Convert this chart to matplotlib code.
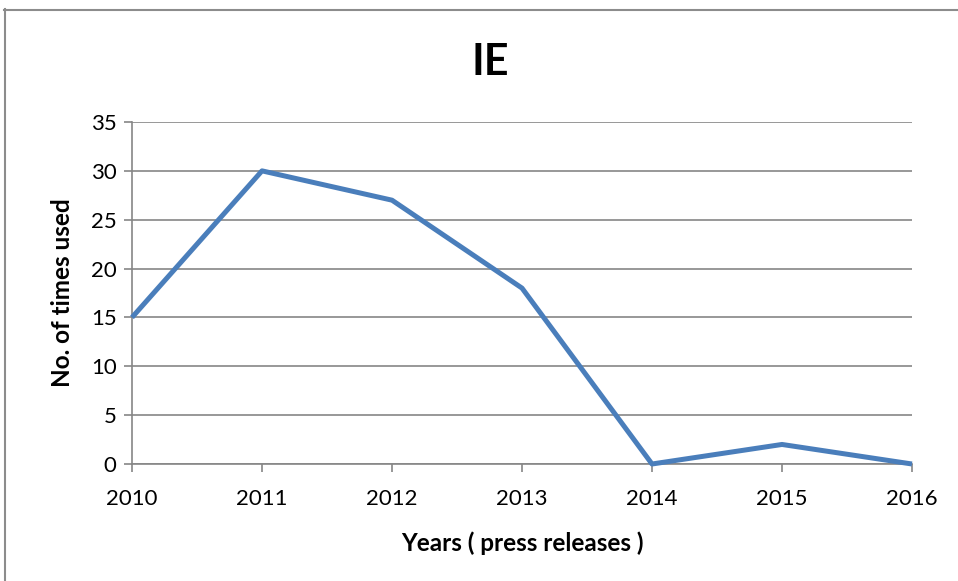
import matplotlib
matplotlib.use("Agg")
import matplotlib.pyplot as plt
from matplotlib.lines import Line2D

years = [2010, 2011, 2012, 2013, 2014, 2015, 2016]
values = [15, 30, 27, 18, 0, 2, 0]
yticks = [0, 5, 10, 15, 20, 25, 30, 35]

plt.rcParams['font.family'] = ['Lato', 'DejaVu Sans']

W, H = 958, 581
fig = plt.figure(figsize=(W / 100, H / 100), dpi=100)
ax = fig.add_axes([132 / W, 1 - 464 / H, (912 - 132) / W, (464 - 122) / H])

grid_c = '#868686'
ax.plot(years, values, color='#4A7EBB', linewidth=3.6, solid_capstyle='butt', zorder=3, clip_on=False)
ax.set_xlim(years[0], years[-1])
ax.set_ylim(0, 35)
ax.set_yticks(yticks)
ax.set_xticks(years)
ax.yaxis.grid(True, color=grid_c, linewidth=1.2)
ax.set_axisbelow(True)
for s in ['top', 'right']:
    ax.spines[s].set_visible(False)
for s in ['left', 'bottom']:
    ax.spines[s].set_color(grid_c)
    ax.spines[s].set_linewidth(1.2)
ax.tick_params(axis='both', colors=grid_c, labelcolor='black', labelsize=16, width=1.2, length=6)
ax.tick_params(axis='y', pad=5)
ax.tick_params(axis='x', pad=12)

ax.set_ylabel('No. of times used', fontsize=17.5, fontweight='bold', labelpad=12)
ax.set_xlabel('Years ( press releases )', fontsize=17.5, fontweight='bold', labelpad=16)
fig.text(490 / W, 1 - 62 / H, 'IE', ha='center', va='center', fontsize=31, fontweight='bold')

bc = '#8c8c8c'
fig.add_artist(Line2D([4.5 / W, 4.5 / W], [0, 1 - 9 / H], transform=fig.transFigure, color=bc, linewidth=1.5))
fig.add_artist(Line2D([4 / W, 1], [1 - 9.5 / H, 1 - 9.5 / H], transform=fig.transFigure, color=bc, linewidth=1.5))

fig.savefig('out.png', dpi=100)
